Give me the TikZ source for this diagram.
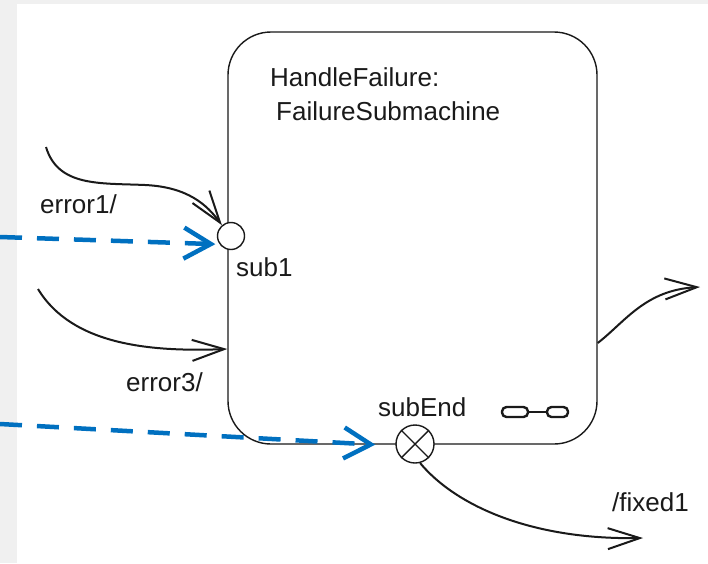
\documentclass[tikz,border=0pt]{standalone}
\usepackage{fontspec}
\setmainfont{Liberation Sans}
\usetikzlibrary{arrows.meta}
\definecolor{flowblue}{HTML}{0070C0}
\definecolor{pagegray}{HTML}{F0F0F0}
\definecolor{ink}{HTML}{1A1A1A}
\begin{document}
\begin{tikzpicture}[x=1pt,y=-1pt,
  lbl/.style={anchor=base west, inner sep=0pt, text=ink, font=\fontsize{26}{30}\selectfont},
  statebox/.style={draw=ink, line width=1.4pt, fill=white, rounded corners=43pt,
    minimum width=369pt, minimum height=412pt, inner sep=0pt},
  port/.style={circle, draw=ink, line width=1.4pt, fill=white, inner sep=0pt},
  trans/.style={draw=ink, line width=2pt,
    -{Straight Barb[length=32pt,width=21pt,line width=2pt]}},
  flow/.style={draw=flowblue, line width=4.5pt, dash pattern=on 22pt off 15pt,
    -{Straight Barb[length=27pt,width=31pt,line width=4.5pt]}},
  capsule/.style={draw=ink, line width=2.4pt, rounded corners=4.5pt,
    minimum height=10pt, inner sep=0pt}]
  % page background
  \fill[pagegray] (0,0) rectangle (708,563);
  \fill[white] (17,4) rectangle (708,563);
  \useasboundingbox (0,0) rectangle (708,563);

  % submachine state
  \node[statebox] (hf) at (412.5,238) {};
  \node[lbl] (name1) at (270,86) {HandleFailure:};
  \node[lbl] (name2) at (276,120) {FailureSubmachine};

  % submachine icon
  \node[capsule, minimum width=26pt] (ic1) at (515,412) {};
  \node[capsule, minimum width=21pt] (ic2) at (557.5,412) {};
  \draw[ink, line width=2.4pt] (ic1) -- (ic2);

  % connection points
  \node[port, minimum size=27pt] (sub1) at (231,236) {};
  \node[port, minimum size=38pt] (se) at (415,444) {};
  \draw[ink, line width=1.4pt] (se.135) -- (se.-45) (se.45) -- (se.-135);

  \node[lbl] (lsub1) at (236,276) {sub1};
  \node[lbl] (lse) at (378,416) {subEnd};

  % incoming transitions
  \coordinate (e1s) at (46,147);
  \draw[trans] (e1s) .. controls (58,187) and (100,183) .. (145,185)
     .. controls (188,187) and (207,205) .. (sub1.130);
  \node[lbl] (le1) at (40,213) {error1/};

  \coordinate (e3s) at (38,289);
  \draw[trans] (e3s) .. controls (72,345) and (150,352) .. ([yshift=-111pt]hf.west);
  \node[lbl] (le3) at (126,391) {error3/};

  % outgoing transitions
  \coordinate (outr) at (700,287);
  \draw[trans] ([yshift=-105pt]hf.east) .. controls (625,322) and (645,290) .. (outr);

  \coordinate (outf) at (643,538);
  \draw[trans] (se.-75) .. controls (455,505) and (530,540) .. (outf);
  \node[lbl] (lf1) at (612,511) {/fixed1};

  % dashed flows
  \coordinate (f1s) at (0,237);
  \coordinate (f2s) at (0,424);
  \draw[flow] (f1s) -- ([xshift=-4pt]sub1.215);
  \draw[flow] (f2s) -- ([xshift=-20pt]se.182);
\end{tikzpicture}
\end{document}
